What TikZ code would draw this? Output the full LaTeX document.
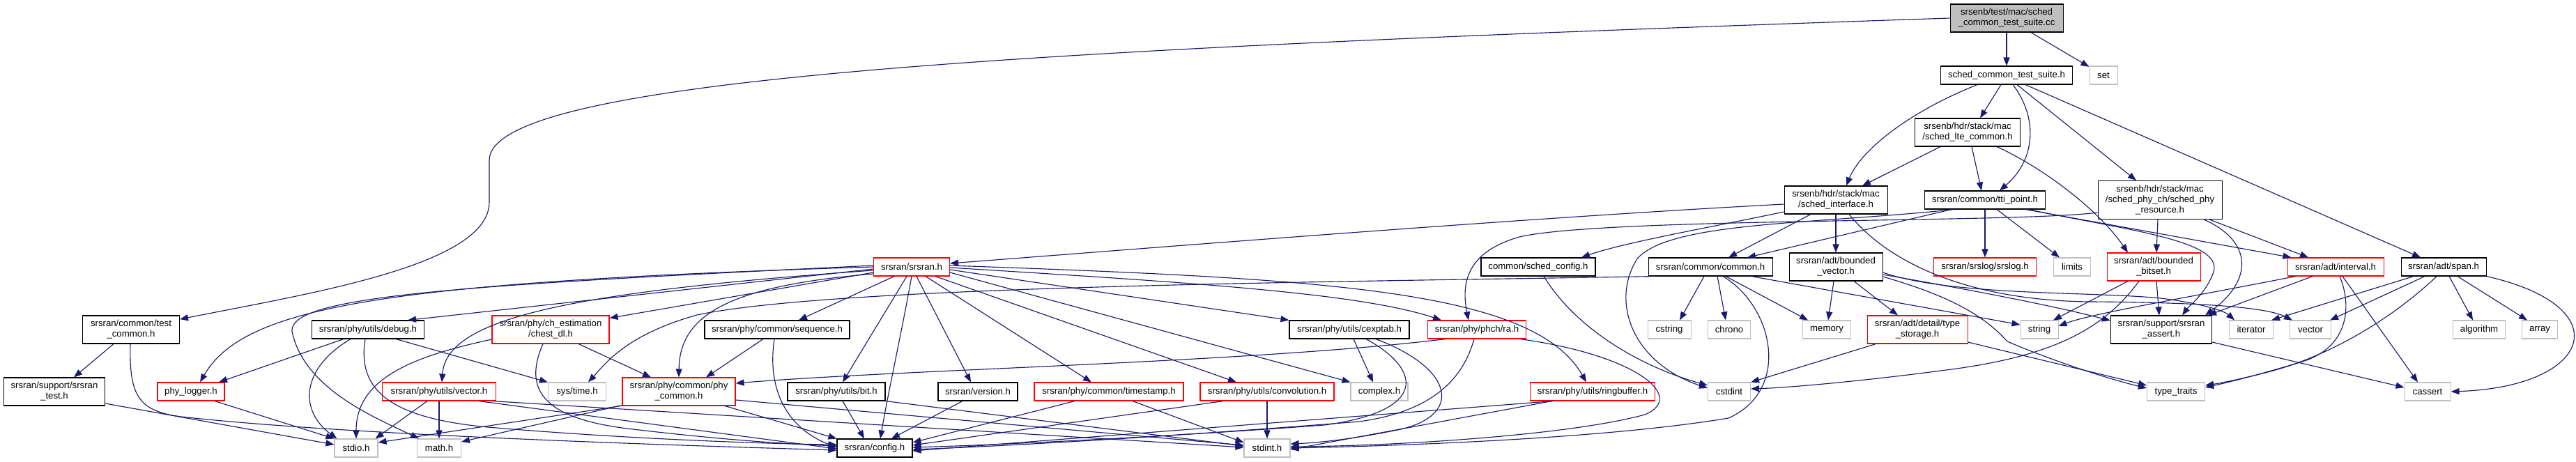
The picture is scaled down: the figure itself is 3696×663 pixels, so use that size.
\documentclass[tikz,border=0pt]{standalone}
\usepackage{fontspec}
\setmainfont{Liberation Sans}
\usetikzlibrary{arrows.meta,calc}
\definecolor{edgec}{HTML}{191970}
\definecolor{grayb}{HTML}{BFBFBF}
\begin{document}
\begin{tikzpicture}[x=0.75pt,y=-0.75pt,
  base/.style={line width=0.8pt, inner sep=0pt, align=center, font=\fontsize{9.9}{11.25}\selectfont},
  bx/.style 2 args={base, draw=black, minimum width=#1*0.75pt, minimum height=#2*0.75pt},
  rx/.style 2 args={base, draw=red, minimum width=#1*0.75pt, minimum height=#2*0.75pt},
  gx/.style 2 args={base, draw=grayb, minimum width=#1*0.75pt, minimum height=#2*0.75pt},
  rt/.style 2 args={base, draw=black, fill=grayb, minimum width=#1*0.75pt, minimum height=#2*0.75pt},
  e/.style={draw=edgec, line width=0.85pt, -{Triangle[length=9pt,width=6.8pt]}}]
\useasboundingbox (0,0) rectangle (3696,663);
% nodes
\node[rt={162}{40}] (root) at (2879,26) {srsenb/test/mac/sched\\\_common\_test\_suite.cc};
\node[bx={189}{26}] (sct) at (2879,108) {sched\_common\_test\_suite.h};
\node[gx={40}{26}] (set) at (3018,108) {set};
\node[bx={151}{40}] (slc) at (2823,190) {srsenb/hdr/stack/mac\\/sched\_lte\_common.h};
\node[bx={148}{40}] (si) at (2634,287) {srsenb/hdr/stack/mac\\/sched\_interface.h};
\node[bx={173}{26}] (tp) at (2848,287) {srsran/common/tti\_point.h};
\node[bx={178}{55}] (spr) at (3099,287) {srsenb/hdr/stack/mac\\/sched\_phy\_ch/sched\_phy\\\_resource.h};
\node[rx={109}{26}] (srsran) at (1308,383) {srsran/srsran.h};
\node[bx={164}{26}] (schedcfg) at (2207,383) {common/sched\_config.h};
\node[bx={178}{26}] (common) at (2454,383) {srsran/common/common.h};
\node[bx={134}{40}] (bvec) at (2634,383) {srsran/adt/bounded\\\_vector.h};
\node[rx={147}{26}] (srslog) at (2848,383) {srsran/srslog/srslog.h};
\node[gx={53}{26}] (limits) at (2973,383) {limits};
\node[rx={134}{40}] (bbits) at (3090,383) {srsran/adt/bounded\\\_bitset.h};
\node[rx={138}{26}] (interval) at (3351,383) {srsran/adt/interval.h};
\node[bx={122}{26}] (span) at (3506,383) {srsran/adt/span.h};
\node[bx={139}{40}] (tc) at (188,473) {srsran/common/test\\\_common.h};
\node[bx={161}{26}] (debug) at (528,473) {srsran/phy/utils/debug.h};
\node[rx={168}{40}] (chest) at (790,473) {srsran/phy/ch\_estimation\\/chest\_dl.h};
\node[bx={208}{26}] (seq) at (1115,473) {srsran/phy/common/sequence.h};
\node[bx={172}{26}] (cexp) at (1936,473) {srsran/phy/utils/cexptab.h};
\node[rx={141}{26}] (ra) at (2119,473) {srsran/phy/phch/ra.h};
\node[gx={62}{26}] (cstring) at (2395,473) {cstring};
\node[gx={61}{26}] (chrono) at (2481,473) {chrono};
\node[gx={69}{26}] (memory) at (2621,473) {memory};
\node[rx={144}{40}] (tstor) at (2751,473) {srsran/adt/detail/type\\\_storage.h};
\node[gx={54}{26}] (string) at (2926,473) {string};
\node[bx={145}{40}] (assert) at (3101,473) {srsran/support/srsran\\\_assert.h};
\node[gx={63}{26}] (iterator) at (3230,473) {iterator};
\node[gx={59}{26}] (vector) at (3315,473) {vector};
\node[gx={75}{26}] (algorithm) at (3557,473) {algorithm};
\node[gx={51}{26}] (array) at (3644,473) {array};
\node[bx={145}{40}] (stest) at (78,562) {srsran/support/srsran\\\_test.h};
\node[rx={96}{26}] (plog) at (274,562) {phy\_logger.h};
\node[rx={163}{26}] (vec) at (630,562) {srsran/phy/utils/vector.h};
\node[gx={83}{26}] (systime) at (828,562) {sys/time.h};
\node[rx={162}{40}] (phyc) at (974,562) {srsran/phy/common/phy\\\_common.h};
\node[bx={140}{26}] (bit) at (1200,562) {srsran/phy/utils/bit.h};
\node[bx={114}{26}] (version) at (1403,562) {srsran/version.h};
\node[rx={214}{26}] (tstamp) at (1591,562) {srsran/phy/common/timestamp.h};
\node[rx={192}{26}] (conv) at (1818,562) {srsran/phy/utils/convolution.h};
\node[gx={82}{26}] (complex) at (1979,562) {complex.h};
\node[rx={179}{26}] (ring) at (2285,562) {srsran/phy/utils/ringbuffer.h};
\node[gx={61}{26}] (cstdint) at (2481,562) {cstdint};
\node[gx={83}{26}] (ttraits) at (3122,562) {type\_traits};
\node[gx={66}{26}] (cassert) at (3483,562) {cassert};
\node[gx={62}{26}] (stdio) at (511,643) {stdio.h};
\node[gx={63}{26}] (math) at (630,643) {math.h};
\node[bx={108}{26}] (config) at (1255,643) {srsran/config.h};
\node[gx={66}{26}] (stdint) at (1818,643) {stdint.h};
% root
\draw[e] (root) -- (sct);
\draw[e] (root) -- (set);
\draw[e] (root.west) .. controls (1500,70) and (702,110) .. (702,230) -- (702,290) .. controls (702,380) and (450,420) .. (tc.12);
% sct
\draw[e] ($(sct.south)+(-42,0)$) .. controls (2740,160) and (2670,215) .. ($(si.north)+(15,0)$);
\draw[e] ($(sct.south)+(-8,0)$) -- ($(slc.north)+(18,0)$);
\draw[e] ($(sct.south)+(9,0)$) .. controls (2925,170) and (2920,230) .. ($(tp.north)+(21,0)$);
\draw[e] ($(sct.south)+(15,0)$) -- ($(spr.north)+(-34,0)$);
\draw[e] ($(sct.south)+(27,0)$) -- ($(span.north)+(-33,0)$);
% slc
\draw[e] ($(slc.south)+(-39,0)$) -- ($(si.north)+(38,0)$);
\draw[e] ($(slc.south)+(6,0)$) -- ($(tp.north)+(-5,0)$);
\draw[e] ($(slc.south)+(42,0)$) .. controls (2930,240) and (3010,300) .. ($(bbits.north)+(-37,0)$);
% si
\draw[e] ($(si.west)+(0,6)$) .. controls (2200,312) and (1700,352) .. ($(srsran.east)+(0,-5)$);
\draw[e] ($(si.west)+(0,17)$) .. controls (2460,325) and (2330,348) .. ($(schedcfg.north)+(62,0)$);
\draw[e] ($(si.south)+(-36,0)$) -- ($(common.north)+(26,0)$);
\draw[e] (si) -- (bvec);
\draw[e] ($(si.south)+(19,0)$) .. controls (2720,390) and (2850,432) .. (3000,433) .. controls (3150,434) and (3250,440) .. ($(vector.north west)+(4,0)$);
% tp
\draw[e] ($(tp.south)+(-48,0)$) -- ($(common.north)+(53,0)$);
\draw[e] (tp) -- (srslog);
\draw[e] ($(tp.south)+(17,0)$) -- ($(limits.north)+(-18,0)$);
\draw[e] ($(tp.south)+(-44,0)$) .. controls (2600,322) and (2400,318) .. (2350,370) .. controls (2310,430) and (2340,520) .. ($(cstdint.west)+(0,-5)$);
\draw[e] ($(tp.south)+(58,0)$) -- ($(interval.north west)+(6,0)$);
\draw[e] ($(tp.south)+(62,0)$) .. controls (3050,330) and (3190,345) .. (3176,390) .. controls (3166,420) and (3140,440) .. ($(assert.north)+(30,0)$);
% spr
\draw[e] ($(spr.south)+(-3,0)$) -- ($(bbits.north)+(4,0)$);
\draw[e] ($(spr.south)+(71,0)$) -- ($(interval.north)+(-39,0)$);
\draw[e] ($(spr.south)+(63,0)$) .. controls (3230,345) and (3235,400) .. ($(assert.north east)+(-10,0)$);
\draw[e] ($(spr.west)+(0,18)$) .. controls (2900,320) and (2300,312) .. (2180,340) .. controls (2110,360) and (2095,400) .. ($(ra.north)+(-12,0)$);
% srsran
\draw[e] ($(srsran.west)+(0,3)$) -- ($(debug.north)+(57,0)$);
\draw[e] (srsran.west) .. controls (550,405) and (350,440) .. ($(plog.north)+(13,0)$);
\draw[e] ($(srsran.west)+(0,-2)$) .. controls (650,410) and (400,425) .. (420,480) .. controls (440,560) and (540,600) .. ($(math.north west)+(3,0)$);
\draw[e] ($(srsran.west)+(0,5)$) .. controls (800,420) and (640,460) .. ($(vec.north)+(4,0)$);
\draw[e] ($(srsran.west)+(0,8)$) -- ($(chest.north east)+(0,4)$);
\draw[e] ($(srsran.south)+(-25,0)$) -- ($(seq.north)+(31,0)$);
\draw[e] ($(srsran.west)+(0,10)$) .. controls (1050,410) and (975,450) .. (phyc.north);
\draw[e] ($(srsran.south)+(-7,0)$) -- ($(bit.north)+(9,0)$);
\draw[e] (srsran.south) .. controls (1295,470) and (1275,560) .. ($(config.north)+(8,0)$);
\draw[e] ($(srsran.south)+(7,0)$) -- ($(version.north)+(-10,0)$);
\draw[e] ($(srsran.south)+(20,0)$) -- ($(tstamp.north)+(-25,0)$);
\draw[e] ($(srsran.south)+(34,0)$) -- ($(conv.north)+(-44,0)$);
\draw[e] ($(srsran.east)+(0,4)$) -- (cexp.north west);
\draw[e] ($(srsran.east)+(0,1)$) .. controls (1700,405) and (1950,420) .. ($(ra.north)+(-51,0)$);
\draw[e] ($(srsran.east)+(0,-2)$) .. controls (1900,400) and (2200,415) .. ($(ring.north)+(-9,0)$);
\draw[e] ($(srsran.east)+(0,8)$) -- (complex.north west);
% debug
\draw[e] ($(debug.south)+(-35,0)$) -- ($(plog.north)+(40,0)$);
\draw[e] ($(debug.south)+(-25,0)$) .. controls (430,530) and (430,590) .. ($(stdio.north west)+(4,0)$);
\draw[e] ($(debug.south)+(-4,0)$) .. controls (512,560) and (560,600) .. (700,613) .. controls (900,630) and (1100,637) .. ($(config.west)+(0,-5)$);
\draw[e] ($(debug.south)+(40,0)$) -- (systime.north west);
% chest
\draw[e] ($(chest.south)+(40,0)$) -- ($(phyc.north)+(-40,0)$);
\draw[e] ($(chest.south)+(-11,0)$) .. controls (750,560) and (780,600) .. (900,615) .. controls (1000,627) and (1100,636) .. ($(config.west)+(0,-3)$);
\draw[e] ($(chest.west)+(0,14)$) .. controls (600,510) and (511,540) .. (stdio.north);
% seq
\draw[e] ($(seq.south)+(-20,0)$) -- ($(phyc.north)+(39,0)$);
\draw[e] ($(seq.south)+(-4,0)$) .. controls (1100,560) and (1130,615) .. ($(config.west)+(0,-1)$);
% vec
\draw[e] (vec) -- (math);
\draw[e] ($(vec.south)+(57,0)$) -- ($(config.west)+(0,1)$);
\draw[e] ($(vec.south)+(76,0)$) -- ($(stdint.west)+(0,-1)$);
\draw[e] ($(vec.south)+(-17,0)$) -- ($(stdio.north east)+(-4,0)$);
% phyc
\draw[e] ($(phyc.south west)+(0,-1)$) -- ($(math.east)+(0,-9)$);
\draw[e] ($(phyc.south west)+(-2,0)$) -- ($(stdio.east)+(0,-8)$);
\draw[e] ($(phyc.south)+(66,0)$) -- (config.north west);
\draw[e] ($(phyc.east)+(0,12)$) -- ($(stdint.west)+(0,-4)$);
% bit, version, timestamp, convolution
\draw[e] ($(bit.south)+(9,0)$) -- ($(config.north)+(-15,0)$);
\draw[e] (bit.south east) -- ($(stdint.west)+(0,-3)$);
\draw[e] ($(version.south)+(-22,0)$) -- ($(config.north)+(24,0)$);
\draw[e] ($(tstamp.south)+(-49,0)$) -- ($(config.east)+(0,-8)$);
\draw[e] ($(tstamp.south)+(34,0)$) -- ($(stdint.west)+(0,-8)$);
\draw[e] ($(conv.south)+(-63,0)$) -- ($(config.east)+(0,-4)$);
\draw[e] (conv) -- (stdint);
% cexp
\draw[e] ($(cexp.south)+(6,0)$) -- ($(complex.north)+(-9,0)$);
\draw[e] ($(cexp.south)+(24,0)$) .. controls (2040,530) and (2050,590) .. (1900,610) .. controls (1700,625) and (1450,638) .. ($(config.east)+(0,-1)$);
\draw[e] ($(cexp.south)+(38,0)$) .. controls (2090,530) and (2100,600) .. (2000,618) .. controls (1950,628) and (1900,635) .. ($(stdint.east)+(0,-6)$);
% ra
\draw[e] ($(ra.south)+(-45,0)$) .. controls (1800,520) and (1300,530) .. ($(phyc.east)+(0,-12)$);
\draw[e] ($(ra.south)+(-4,0)$) .. controls (2100,540) and (2060,590) .. (1950,605) .. controls (1700,625) and (1450,640) .. ($(config.east)+(0,2)$);
\draw[e] ($(ra.south east)+(-9,0)$) .. controls (2350,510) and (2420,570) .. (2360,595) .. controls (2250,625) and (2000,640) .. ($(stdint.east)+(0,-2)$);
% ring
\draw[e] ($(ring.south)+(-56,0)$) -- ($(config.east)+(0,4)$);
\draw[e] ($(ring.south)+(-58,0)$) -- ($(stdint.east)+(0,2)$);
% common
\draw[e] ($(common.south west)+(10,0)$) .. controls (1900,405) and (1200,410) .. (1000,452) .. controls (900,480) and (870,520) .. ($(systime.north)+(16,0)$);
\draw[e] ($(common.south)+(-9,0)$) -- ($(cstring.north)+(15,0)$);
\draw[e] ($(common.south)+(10,0)$) -- ($(chrono.north)+(-5,0)$);
\draw[e] ($(common.south)+(22,0)$) -- ($(memory.north)+(-27,0)$);
\draw[e] ($(common.south)+(59,0)$) -- ($(string.west)+(0,-7)$);
\draw[e] ($(common.south)+(18,0)$) .. controls (2545,440) and (2570,560) .. (2480,600) .. controls (2300,630) and (2000,640) .. (stdint.east);
% schedcfg
\draw[e] ($(schedcfg.south)+(8,0)$) .. controls (2260,470) and (2350,525) .. ($(cstdint.west)+(0,-9)$);
% bvec
\draw[e] ($(bvec.south)+(-3,0)$) -- ($(memory.north)+(2,0)$);
\draw[e] ($(bvec.south)+(26,0)$) -- ($(tstor.north)+(-28,0)$);
\draw[e] ($(bvec.east)+(0,11)$) .. controls (2850,420) and (2950,440) .. ($(assert.west)+(0,-13)$);
\draw[e] ($(bvec.east)+(0,8)$) .. controls (2800,425) and (3000,418) .. (3100,428) .. controls (3150,434) and (3190,445) .. ($(iterator.north west)+(8,0)$);
\draw[e] ($(bvec.east)+(0,14)$) .. controls (2780,420) and (2840,445) .. (2880,490) .. controls (2950,520) and (3030,545) .. ($(ttraits.west)+(0,-5)$);
% tstor
\draw[e] ($(tstor.south west)+(13,0)$) -- (cstdint.north east);
\draw[e] ($(tstor.east)+(0,18)$) -- ($(ttraits.west)+(0,-9)$);
% bbits
\draw[e] ($(bbits.south)+(-37,0)$) -- ($(string.north)+(20,0)$);
\draw[e] ($(bbits.south)+(-21,0)$) .. controls (3020,470) and (2950,510) .. (2800,530) .. controls (2650,550) and (2550,557) .. ($(cstdint.east)+(0,-4)$);
\draw[e] ($(bbits.south)+(4,0)$) -- ($(assert.north)+(-3,0)$);
% interval
\draw[e] ($(interval.south)+(-33,0)$) -- ($(assert.north east)+(-6,0)$);
\draw[e] ($(interval.south west)+(12,0)$) .. controls (3150,425) and (3000,450) .. ($(string.east)+(0,-5)$);
\draw[e] ($(interval.south)+(10,0)$) -- ($(cassert.north)+(-14,0)$);
\draw[e] ($(interval.south)+(6,0)$) .. controls (3375,440) and (3370,500) .. (3300,520) .. controls (3240,538) and (3200,548) .. ($(ttraits.east)+(0,-6)$);
% span
\draw[e] ($(span.south)+(-43,0)$) -- ($(iterator.north east)+(-3,0)$);
\draw[e] ($(span.south)+(-27,0)$) -- ($(vector.north east)+(-2,0)$);
\draw[e] ($(span.south)+(-10,0)$) .. controls (3440,450) and (3350,510) .. (3250,535) .. controls (3210,545) and (3185,550) .. ($(ttraits.east)+(0,-9)$);
\draw[e] ($(span.south)+(8,0)$) -- ($(algorithm.north)+(-9,0)$);
\draw[e] ($(span.south)+(20,0)$) -- ($(array.north)+(-18,0)$);
\draw[e] (span.south east) .. controls (3760,440) and (3720,555) .. (cassert.east);
\draw[e] ($(assert.east)+(0,18)$) -- ($(cassert.west)+(0,-6)$);
% tc
\draw[e] ($(tc.south)+(-25,0)$) -- ($(stest.north)+(28,0)$);
\draw[e] ($(tc.south)+(-1,0)$) .. controls (185,570) and (200,590) .. (260,598) .. controls (500,625) and (1000,640) .. ($(config.west)+(0,3)$);
\draw[e] ($(stest.east)+(0,17)$) -- ($(stdio.west)+(0,-5)$);
\draw[e] ($(plog.south)+(34,0)$) -- (stdio.north west);
\end{tikzpicture}
\end{document}
